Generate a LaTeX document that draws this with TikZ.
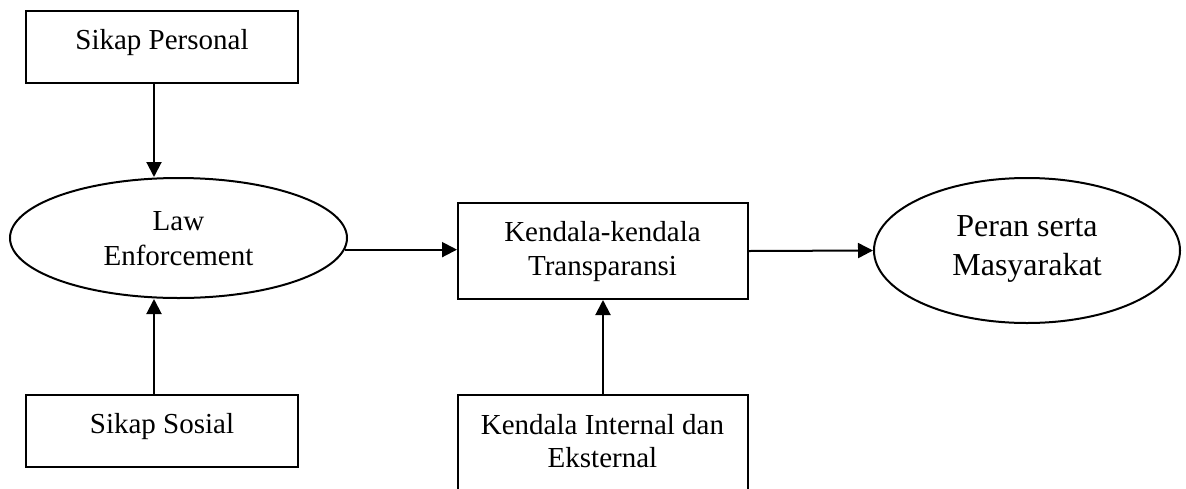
\documentclass[tikz,border=0pt]{standalone}
\usepackage{fontspec}
\setmainfont{Liberation Serif}
\usetikzlibrary{shapes.geometric,arrows.meta}
\begin{document}
\begin{tikzpicture}[x=1pt,y=-1pt,
  box/.style={draw, line width=2pt, rectangle, inner sep=0pt},
  oval/.style={draw, line width=2pt, ellipse, inner sep=0pt},
  lbl/.style={anchor=base, inner sep=0pt, font=\fontsize{29}{35}\selectfont},
  lblbig/.style={anchor=base, inner sep=0pt, font=\fontsize{32}{38}\selectfont},
  arr/.style={line width=2pt, -{Triangle[length=15pt,width=15pt]}}]
\useasboundingbox (0,0) rectangle (1186,488);
\clip (0,0) rectangle (1186,488);
% shapes
\node[box, minimum width=272pt, minimum height=72pt] (sp) at (162,47) {};
\node[oval, minimum width=337pt, minimum height=120pt] (le) at (178.5,238) {};
\node[box, minimum width=272pt, minimum height=72pt] (ss) at (162,431) {};
\node[box, minimum width=290pt, minimum height=96pt] (kt) at (603,251) {};
\node[box, minimum width=290pt, minimum height=106pt] (ki) at (603,448) {};
\node[oval, minimum width=306pt, minimum height=145pt] (pm) at (1027,250.5) {};
% labels
\node[lbl] (t1) at (162,49) {Sikap Personal};
\node[lbl] (t2) at (178.5,230) {Law};
\node[lbl] (t3) at (178.5,265) {Enforcement};
\node[lbl] (t4) at (162,433) {Sikap Sosial};
\node[lbl] (t5) at (602.5,241.5) {Kendala-kendala};
\node[lbl] (t6) at (602.5,275) {Transparansi};
\node[lbl] (t7) at (602.5,434) {Kendala Internal dan};
\node[lbl] (t8) at (602.5,467) {Eksternal};
\node[lblbig] (t9) at (1027,236.5) {Peran serta};
\node[lblbig] (t10) at (1027,275) {Masyarakat};
% connectors
\draw[arr] ([xshift=-8pt]sp.south) -- ([xshift=-8pt]sp.south |- le.north);
\draw[arr] ([xshift=-8pt]ss.north) -- ([xshift=-8pt]ss.north |- le.south);
\draw[arr] (le.-4) -- (le.-4 -| kt.west);
\draw[arr] (kt.east) -- (pm.west);
\draw[arr] (ki.north) -- (kt.south);
\end{tikzpicture}
\end{document}
